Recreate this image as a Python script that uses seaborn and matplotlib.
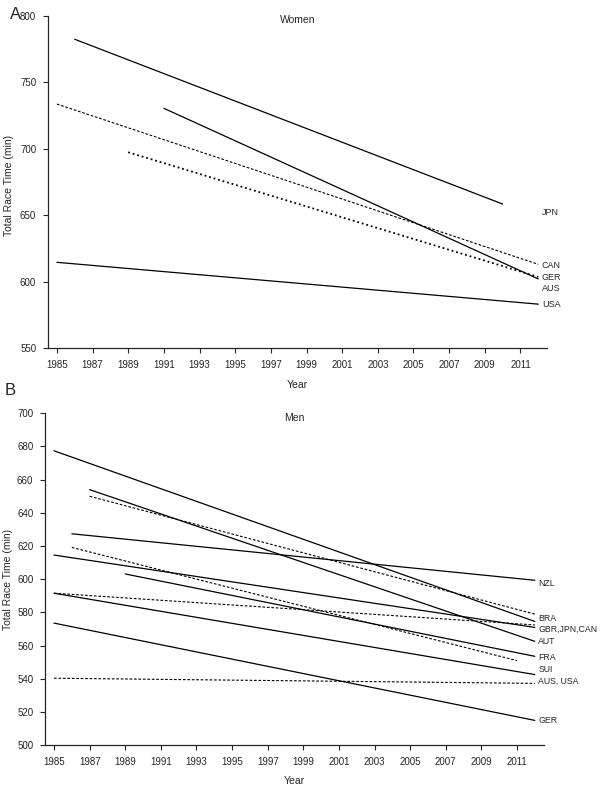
import matplotlib
matplotlib.use("Agg")
import matplotlib.pyplot as plt
import pandas as pd
import seaborn as sns

# Women (panel A): fitted trend lines, start/end year and start/end time (min)
women_series = ["JPN", "GER", "CAN", "AUS", "USA"]
women_year0 = [1986, 1991, 1985, 1989, 1985]
women_year1 = [2010, 2012, 2012, 2012, 2012]
women_time0 = [782.5, 730.5, 733.7, 697.4, 614.5]
women_time1 = [658.4, 602.0, 613.0, 603.5, 583.0]
women_style = ["solid", "solid", "dashed", "dotted", "solid"]
women_labels = ["JPN", "CAN", "GER", "AUS", "USA"]

# Men (panel B)
men_series = ["m1", "m2", "m3", "m4", "m5", "m6", "m7", "m8", "m9", "m10", "m11"]
men_year0 = [1985, 1987, 1987, 1986, 1986, 1985, 1989, 1985, 1985, 1985, 1985]
men_year1 = [2012, 2012, 2012, 2012, 2011, 2012, 2012, 2012, 2012, 2012, 2012]
men_time0 = [677.4, 654.0, 650.0, 627.4, 619.2, 614.6, 603.2, 591.6, 591.6, 573.6, 540.4]
men_time1 = [574.6, 562.6, 579.0, 599.4, 551.0, 571.0, 553.6, 572.5, 542.6, 515.0, 537.3]
men_style = ["solid", "solid", "dashed", "solid", "dashed", "solid", "solid",
             "dashed", "solid", "solid", "dashed"]
men_labels = ["NZL", "BRA", "GBR,JPN,CAN", "AUT", "FRA", "SUI", "AUS, USA", "GER"]

sns.set_style("ticks")
plt.rcParams['font.family'] = ['Liberation Sans', 'DejaVu Sans']

dash_map = {"solid": "", "dashed": (2.4, 1.6), "dotted": (1.0, 1.6)}
width_map = {"solid": 0.9, "dashed": 0.8, "dotted": 1.3}


def long_table(names, y0, y1, t0, t1):
    rows = []
    for n, a, b, c, d in zip(names, y0, y1, t0, t1):
        rows.append({"series": n, "Year": a, "Time": c})
        rows.append({"series": n, "Year": b, "Time": d})
    return pd.DataFrame(rows)


def draw_panel(ax, names, y0, y1, t0, t1, styles):
    df = long_table(names, y0, y1, t0, t1)
    for n, st in zip(names, styles):
        sns.lineplot(data=df[df.series == n], x="Year", y="Time", ax=ax,
                     color="black", lw=width_map[st],
                     estimator=None, legend=False)
        line = ax.get_lines()[-1]
        if st != "solid":
            line.set_dashes(dash_map[st])
    sns.despine(ax=ax)
    ax.spines['left'].set_linewidth(0.9)
    ax.spines['bottom'].set_linewidth(0.9)
    ax.tick_params(direction="out", length=3.5, width=0.8, labelsize=7, pad=5)
    ax.set_xticks(range(1985, 2012, 2))
    ax.set_xlim(1984.5, 2012.5)
    ax.set_ylabel("Total Race Time (min)", fontsize=7.5)
    ax.set_xlabel("Year", fontsize=7.5)


fig = plt.figure(figsize=(6, 7.86), dpi=100)

# Panel A
axA = fig.add_axes([0.08, 0.5573, 0.832, 0.4223])
draw_panel(axA, women_series, women_year0, women_year1, women_time0, women_time1, women_style)
axA.set_ylim(550, 800)
axA.set_yticks(range(550, 801, 50))
axA.xaxis.set_label_coords(0.5, -0.096)
axA.yaxis.set_label_coords(-0.069, 0.49)
axA.text(0.5, 0.988, "Women", transform=axA.transAxes, ha="center", va="center", fontsize=7.5)
for lab, yv in zip(women_labels, [652, 612.3, 603, 594.6, 582.6]):
    axA.text(2012.2, yv, lab, ha="left", va="center", fontsize=6.5, clip_on=False)
fig.text(0.017, 0.991, "A", fontsize=12, ha="left", va="top")

# Panel B
axB = fig.add_axes([0.0752, 0.0518, 0.831, 0.4224])
draw_panel(axB, men_series, men_year0, men_year1, men_time0, men_time1, men_style)
axB.set_ylim(500, 700)
axB.set_yticks(range(500, 701, 20))
axB.xaxis.set_label_coords(0.5, -0.0925)
axB.yaxis.set_label_coords(-0.064, 0.5)
axB.text(0.5, 0.985, "Men", transform=axB.transAxes, ha="center", va="center", fontsize=7.5)
for lab, yv in zip(men_labels, [597.6, 576.4, 569.6, 562.8, 552.8, 545.6, 538.8, 514.8]):
    axB.text(2012.2, yv, lab, ha="left", va="center", fontsize=6.3, clip_on=False)
fig.text(0.008, 0.513, "B", fontsize=12, ha="left", va="top")

fig.savefig("out.png", dpi=100)
